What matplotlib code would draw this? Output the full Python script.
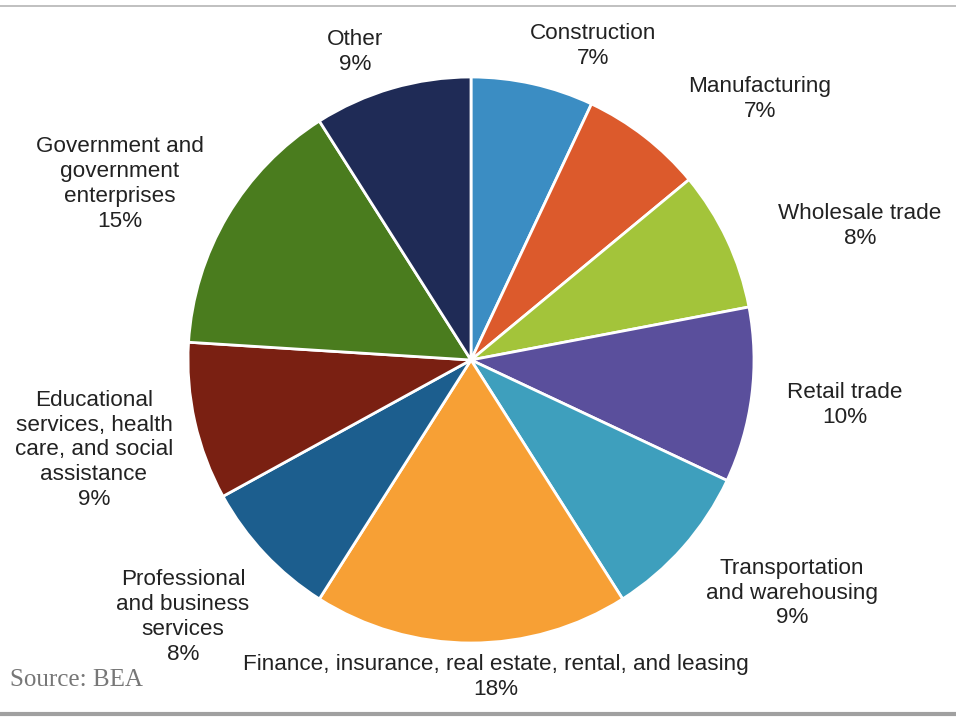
import matplotlib
matplotlib.use("Agg")
import matplotlib.pyplot as plt

categories = ["Construction", "Manufacturing", "Wholesale trade", "Retail trade",
              "Transportation\nand warehousing",
              "Finance, insurance, real estate, rental, and leasing",
              "Professional\nand business\nservices",
              "Educational\nservices, health\ncare, and social\nassistance",
              "Government and\ngovernment\nenterprises", "Other"]
shares = [7, 7, 8, 10, 9, 18, 8, 9, 15, 9]
colors = ["#3b8dc3", "#dc5a2c", "#a3c43a", "#5a4f9c", "#3e9fbd",
          "#f7a035", "#1c5e8e", "#7a2012", "#4a7c1e", "#1f2b56"]

W, H = 956, 719
fig = plt.figure(figsize=(W / 100, H / 100), dpi=100)
ax = fig.add_axes([0, 0, 1, 1])
ax.set_xlim(0, W)
ax.set_ylim(0, H)
ax.axis("off")

ax.pie(shares, colors=colors, startangle=90, counterclock=False,
       center=(471, H - 360), radius=283,
       wedgeprops=dict(edgecolor="white", linewidth=2))
ax.set_xlim(0, W)
ax.set_ylim(0, H)
ax.set_aspect("auto")

label_pos = [(593, 46), (760, 99), (860, 226), (845, 405), (792, 593),
             (496, 677), (183, 617), (94, 450), (120, 184), (355, 52)]
for cat, val, (x, y) in zip(categories, shares, label_pos):
    ax.text(x, H - y, f"{cat}\n{val}%", ha="center", va="center",
            fontsize=16.2, family="Liberation Sans", color="#222222",
            linespacing=1.23)

ax.text(10, H - 680, "Source: BEA", ha="left", va="center", fontsize=18,
        family="Liberation Serif", color="#777777")

ax.plot([0, W], [H - 6, H - 6], color="#b5b5b5", lw=1.2)
ax.plot([0, W], [H - 714, H - 714], color="#a0a0a0", lw=3)

fig.savefig("out.png", dpi=100)
